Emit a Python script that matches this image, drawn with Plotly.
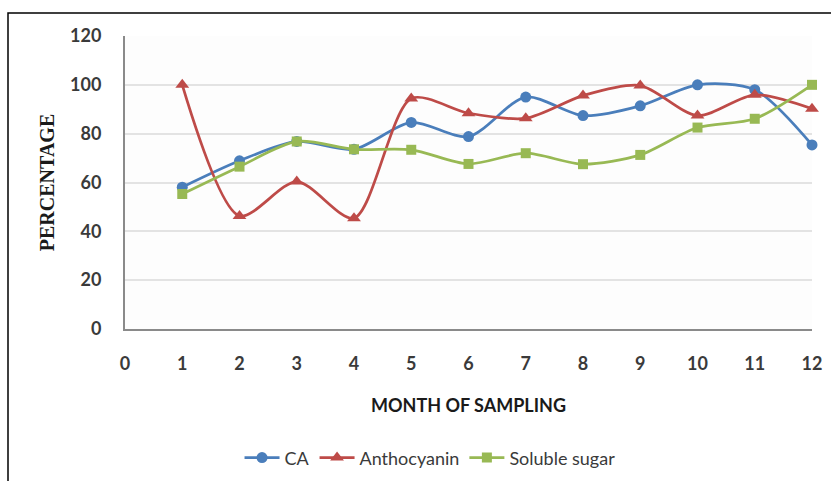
import plotly.graph_objects as go

months = [1, 2, 3, 4, 5, 6, 7, 8, 9, 10, 11, 12]
ca = [58.1, 68.9, 76.8, 73.6, 84.6, 78.8, 95.0, 87.4, 91.4, 100.0, 98.0, 75.4]
anthocyanin = [100.0, 46.3, 60.4, 45.4, 94.4, 88.4, 86.3, 95.6, 99.7, 87.4, 95.9, 90.2]
soluble_sugar = [55.3, 66.5, 76.8, 73.6, 73.4, 67.6, 72.0, 67.5, 71.3, 82.5, 86.1, 100.0]

x_ticks = list(range(0, 13))
y_ticks = [0, 20, 40, 60, 80, 100, 120]

series = [
    ("CA", ca, "#4a7ebb", "circle", 11),
    ("Anthocyanin", anthocyanin, "#be4b48", "triangle-up", 12),
    ("Soluble sugar", soluble_sugar, "#98b954", "square", 10),
]

fig = go.Figure()
for name, vals, color, symbol, size in series:
    fig.add_trace(go.Scatter(
        x=months, y=vals, name=name, mode="lines+markers",
        line=dict(color=color, width=2.75, shape="spline", smoothing=0.8),
        marker=dict(symbol=symbol, size=size, color=color),
        cliponaxis=False,
    ))

fig.update_layout(
    width=831, height=481,
    margin=dict(l=125, r=19, t=36, b=152, autoexpand=False),
    paper_bgcolor="white",
    plot_bgcolor="#fdfdfd",
    showlegend=True,
    legend=dict(
        orientation="h", x=0.444, y=-0.44, xanchor="center", yanchor="middle",
        font=dict(family="Lato", size=18, color="#3a3a3a"),
        itemwidth=35, traceorder="normal",
    ),
    xaxis=dict(
        range=[0, 12], tickvals=x_ticks, ticktext=[str(v) for v in x_ticks],
        showgrid=False, zeroline=False, automargin=False,
        showline=True, linecolor="#8a8a8a", linewidth=2,
        ticks="", ticklabelstandoff=17,
        tickfont=dict(family="Lato", size=18, color="#3a3a3a", weight="bold"),
        title=dict(text="MONTH OF SAMPLING", standoff=27,
                   font=dict(family="Lato", size=18, color="#1a1a1a", weight="bold")),
    ),
    yaxis=dict(
        range=[0, 120], tickvals=y_ticks,
        showgrid=True, gridcolor="#e3e3e3", gridwidth=1.5,
        zeroline=False, automargin=False,
        showline=True, linecolor="#8a8a8a", linewidth=2,
        ticks="", ticklabelstandoff=18,
        tickfont=dict(family="Lato", size=18, color="#3a3a3a", weight="bold"),
        title=dict(text="PERCENTAGE", standoff=10,
                   font=dict(family="Liberation Serif", size=20, color="#1a1a1a", weight="bold")),
    ),
    shapes=[
        dict(type="rect", xref="paper", yref="paper",
             x0=-0.1703, x1=2.0, y0=-1.0, y1=1.0785,
             line=dict(color="black", width=1.5), fillcolor="rgba(0,0,0,0)",
             layer="below"),
    ],
)

fig.write_html("out.html")
